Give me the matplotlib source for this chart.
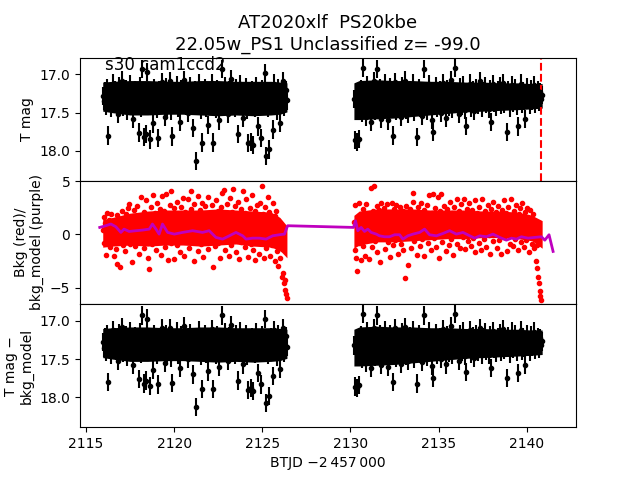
import numpy as np
import matplotlib
matplotlib.use("Agg")
import matplotlib.pyplot as plt

# cadence of the two orbits (BTJD - 2457000)
seg1_start, seg1_end = 2115.95, 2126.40
seg2_start, seg2_end = 2130.20, 2140.88

# T mag, orbit 1 and orbit 2
mag1 = [
    17.28, 17.35, 17.22, 17.41, 17.18, 17.80, 17.31, 17.26, 17.44, 17.12,
    17.33, 17.21, 17.39, 17.29, 17.52, 17.16, 17.36, 17.25, 17.08, 17.42,
    17.30, 17.19, 17.47, 17.27, 17.35, 17.13, 17.40, 17.24, 17.58, 17.32,
    17.20, 17.37, 17.29, 17.76, 17.15, 17.43, 16.93, 17.26, 17.82, 17.34,
    17.78, 16.97, 17.31, 17.85, 17.22, 17.40, 17.64, 17.18, 17.36, 17.27,
    17.45, 17.83, 17.21, 17.33, 17.10, 17.39, 17.28, 17.55, 17.17, 17.42,
    17.25, 17.34, 17.09, 17.48, 17.81, 17.23, 17.37, 17.30, 17.14, 17.44,
    17.26, 17.62, 17.19, 17.35, 17.31, 17.07, 17.41, 17.24, 17.50, 17.29,
    17.16, 17.38, 17.27, 17.70, 17.33, 17.21, 18.13, 17.40, 17.12, 17.32,
    17.46, 17.89, 17.25, 17.36, 17.18, 17.43, 17.29, 17.66, 17.22, 17.39,
    17.11, 17.89, 17.34, 17.27, 17.45, 17.19, 17.37, 17.60, 17.24, 16.93,
    17.31, 17.42, 17.15, 17.35, 17.28, 17.52, 17.20, 17.40, 17.06, 17.33,
    17.26, 17.44, 17.18, 17.37, 17.78, 17.29, 17.13, 17.41, 17.23, 17.57,
    17.34, 17.17, 17.46, 17.90, 17.27, 17.38, 17.88, 17.21, 17.92, 17.32,
    17.43, 17.15, 17.68, 17.36, 17.25, 17.83, 17.19, 17.41, 17.30, 16.98,
    18.07, 17.26, 17.44, 17.98, 17.22, 17.35, 17.72, 17.12, 17.40, 17.28,
    17.47, 17.18, 17.36, 17.63, 17.24, 17.09, 17.42, 17.31, 17.20, 17.34,
]
mag2 = [
    17.32, 17.86, 17.24, 17.88, 17.41, 17.84, 17.19, 17.50, 16.91, 17.35,
    17.27, 17.55, 17.14, 17.44, 17.30, 17.62, 17.21, 17.38, 17.09, 17.47,
    17.26, 16.93, 17.40, 17.18, 17.58, 17.33, 17.22, 17.45, 17.12, 17.36,
    17.29, 17.60, 17.17, 17.42, 17.25, 17.80, 17.34, 17.10, 17.48, 17.23,
    17.39, 17.28, 17.56, 17.15, 17.37, 17.31, 17.08, 17.46, 17.26, 17.52,
    17.20, 17.41, 17.33, 17.12, 17.49, 17.27, 17.38, 17.82, 17.18, 17.43,
    17.30, 17.54, 17.22, 16.93, 17.36, 17.26, 17.47, 17.13, 17.40, 17.29,
    17.59, 17.75, 17.24, 17.37, 17.16, 17.44, 17.31, 17.21, 17.50, 17.27,
    17.11, 17.39, 17.34, 17.57, 17.19, 17.42, 17.28, 17.07, 17.45, 17.32,
    17.23, 16.91, 17.38, 17.26, 17.52, 17.17, 17.35, 17.41, 17.14, 17.30,
    17.46, 17.67, 17.24, 17.37, 17.12, 17.43, 17.29, 17.20, 17.48, 17.33,
    17.18, 17.40, 17.27, 17.09, 17.36, 17.44, 17.22, 17.31, 17.15, 17.39,
    17.26, 17.45, 17.19, 17.62, 17.34, 17.13, 17.37, 17.28, 17.42, 17.21,
    17.33, 17.16, 17.40, 17.25, 17.11, 17.38, 17.29, 17.75, 17.20, 17.35,
    17.43, 17.24, 17.14, 17.37, 17.30, 17.18, 17.41, 17.68, 17.26, 17.33,
    17.12, 17.39, 17.22, 17.35, 17.58, 17.17, 17.31, 17.27, 17.40, 17.19,
    17.34, 17.25, 17.14, 17.38, 17.29, 17.21, 17.36, 17.23, 17.32, 17.27,
]
mag_err = 0.12

# dense part of the light curve (too many points to read one by one)
core_t1 = [2115.95, 2116.5, 2117.5, 2118.5, 2119.5, 2120.5, 2121.5,
           2122.5, 2123.5, 2124.5, 2125.5, 2126.0, 2126.4]
core_t2 = [2130.2, 2130.5, 2131.5, 2132.5, 2133.5, 2134.5, 2135.5,
           2136.5, 2137.5, 2138.5, 2139.5, 2140.3, 2140.88]
mag_core_top1 = [17.10, 17.09, 17.08, 17.08, 17.09, 17.09, 17.08,
                 17.08, 17.09, 17.09, 17.09, 17.10, 17.11]
mag_core_bot1 = [17.48, 17.50, 17.53, 17.53, 17.52, 17.52, 17.53,
                 17.54, 17.53, 17.54, 17.53, 17.52, 17.49]
mag_core_top2 = [17.11, 17.08, 17.07, 17.08, 17.08, 17.09, 17.09,
                 17.10, 17.10, 17.11, 17.11, 17.12, 17.12]
mag_core_bot2 = [17.59, 17.59, 17.58, 17.57, 17.55, 17.53, 17.51,
                 17.49, 17.48, 17.47, 17.46, 17.45, 17.44]
bkg_core_lo1 = [-1.2, -1.1, -1.0, -1.1, -1.0, -1.0, -1.1,
                -1.0, -0.9, -1.1, -1.2, -1.5, -2.2]
bkg_core_hi1 = [1.4, 1.6, 2.0, 2.2, 2.3, 2.3, 2.3,
                2.4, 2.3, 2.2, 2.1, 1.6, 0.8]
bkg_core_lo2 = [-1.3, -1.0, -0.7, -0.7, -0.6, -0.5, -0.4,
                -0.4, -0.3, -0.3, -0.4, -0.6, -1.3]
bkg_core_hi2 = [1.8, 2.2, 2.4, 2.4, 2.4, 2.3, 2.3,
                2.3, 2.2, 2.2, 2.1, 1.8, 1.3]

# background flux (red)
bkg1 = [
    0.4, 1.6, -0.8, 1.1, -1.9, 0.9, 2.0, -0.3, 1.4, -1.2,
    0.7, 1.9, -0.5, 0.2, -2.0, 1.3, 0.5, -1.4, 1.8, -2.8,
    0.9, -0.2, 1.5, -3.1, 0.3, 2.2, -1.0, 1.2, 0.6, -1.6,
    1.9, -0.4, 0.8, 2.5, 2.9, -0.9, 1.4, 0.1, -2.6, 1.7,
    0.5, 2.3, -1.1, 1.0, -0.3, 2.7, 0.7, -1.8, 1.6, 0.2,
    3.5, -0.7, 1.3, 2.1, -1.3, 0.9, 3.2, -0.1, 1.8, -2.2,
    -3.3, 1.1, 2.6, 0.4, -0.9, 3.7, 1.5, -0.2, 2.0, -1.5,
    0.8, 3.0, -0.6, 1.7, 2.4, -1.9, 0.6, 3.6, 1.2, -0.4,
    2.2, -1.2, 3.8, 0.3, 1.6, -2.4, 0.9, 2.8, -0.8, 4.1,
    1.4, -0.3, -2.3, 2.5, 0.7, 1.9, -1.0, 3.1, 0.2, 1.3,
    -1.7, 2.6, 0.5, -0.6, 3.4, 1.0, -2.0, 2.1, 0.8, -0.2,
    1.7, 3.3, -1.3, 0.4, 2.4, 4.1, -0.7, 1.5, -2.5, 2.9,
    0.9, -0.1, 1.8, 3.6, -1.6, 0.6, 2.3, -0.9, 1.2, 3.0,
    -2.1, 0.3, 1.9, 2.7, -0.5, 1.1, -1.4, 3.5, 0.7, 2.0,
    -0.3, 1.6, 2.8, -3.1, 0.5, 1.3, -1.1, 3.2, 0.9, 2.2,
    -0.8, 1.4, -2.2, 2.6, 0.2, 3.9, 1.0, 4.2, -1.5, 1.7,
    0.4, 2.9, -0.6, 1.2, -2.0, 3.4, 0.8, -1.0, 2.1, 4.3,
    1.5, -0.2, 2.7, -1.7, 0.6, 3.1, 1.9, -2.3, 0.1, 2.4,
    -0.7, 1.3, 4.1, 0.5, -1.2, 2.0, 3.3, -0.4, 1.6, -2.1,
    0.9, 2.5, -0.9, 1.8, 3.7, -1.5, 0.3, 2.2, -2.4, 1.1,
    2.8, -0.5, 1.4, -1.8, 3.0, 0.7, -0.1, 4.6, 1.9, -2.2,
    0.5, 2.6, -1.3, 1.0, 3.5, -0.6, 2.1, -2.0, 0.8, 1.5,
    -1.0, 3.0, 0.2, -2.5, 1.7, 2.2, -1.6, 0.4, -3.0, 1.2,
    -2.2, 0.6, -4.0, -1.4, -3.6, -4.6, -5.2, -4.3, -5.6, -6.0,
]
bkg2 = [
    1.2, -1.5, 2.8, -2.2, -3.4, 0.6, 3.0, -0.8, 1.7, -2.4,
    0.3, 2.4, -1.1, 1.0, -2.0, 2.9, 0.5, -0.4, 1.9, -2.3,
    1.4, 0.1, 4.4, -1.2, 2.2, 4.6, 0.8, -0.6, 1.6, 2.7,
    -1.7, 0.9, 2.3, -2.6, 1.3, 3.0, -0.3, 1.8, 0.4, 2.5,
    -1.4, 1.1, 2.9, -0.7, 0.6, 2.0, -2.1, 1.5, 3.0, 0.2,
    -1.0, 2.4, 1.2, -0.5, 2.8, 0.7, -1.8, 1.9, 0.3, 2.6,
    -0.9, 1.4, 2.2, -1.5, 0.8, -4.1, 1.7, 2.7, -0.2, -2.9,
    1.1, 2.4, 0.5, -1.3, 1.9, 3.1, 3.9, -0.6, 1.3, 2.1,
    -1.9, 0.9, 2.6, 0.2, -1.1, 1.6, 3.0, -0.4, 1.0, 2.3,
    -2.0, 1.4, 0.6, 2.8, -0.8, 1.8, 3.7, 0.3, -1.5, 2.0,
    1.2, 3.8, -0.3, 0.8, 2.5, -1.2, 1.6, 3.5, 0.4, -2.2,
    2.2, 3.8, 1.0, -0.7, 1.9, 2.7, 0.1, -1.6, 1.3, 2.4,
    0.6, -1.0, 3.1, 1.7, -0.4, 2.0, 0.9, -1.9, 2.6, 1.2,
    0.3, 3.3, -0.9, 1.5, 2.2, -1.3, 0.7, 2.9, 1.1, -0.2,
    1.8, 3.3, -1.4, 0.5, 2.4, 1.0, -0.6, 3.0, 1.6, -1.1,
    0.8, 2.3, -0.3, 1.4, 3.2, -1.7, 0.6, 2.0, 1.2, -0.8,
    2.6, 0.4, -1.5, 1.9, 3.3, 0.9, -0.4, 2.2, 1.3, -1.2,
    0.7, 2.8, -0.1, 1.6, -1.8, 2.4, 1.0, 3.1, -0.6, 1.5,
    0.2, 2.1, -1.3, 1.1, 2.7, -0.5, 1.8, 0.5, -1.8, 2.3,
    1.3, 3.2, -0.2, 0.9, 2.0, -1.6, 1.5, 2.6, 0.4, -0.9,
    1.7, 3.3, 0.8, -1.1, 2.2, 1.2, -0.4, 2.8, 0.6, -1.5,
    1.9, 1.0, 2.5, -0.7, 1.4, 3.0, 0.3, -1.2, 2.1, 1.1,
    -0.5, 2.5, 1.6, -1.7, 2.3, 0.7, 1.3, -0.9, 1.9, 0.4,
    -1.3, 1.3, -2.5, -1.0, -3.2, -4.0, -4.6, -5.3, -5.8, -6.2,
]

# smoothed background model (purple)
model_t = [
    2115.78, 2116.12, 2116.41, 2116.69, 2116.98, 2117.16, 2117.45, 2117.83,
    2118.21, 2118.59, 2118.77, 2118.97, 2119.15, 2119.34, 2119.63, 2120.01,
    2120.48, 2121.05, 2121.61, 2121.99, 2122.37, 2122.75, 2123.13, 2123.51,
    2123.89, 2124.08, 2124.45, 2124.84, 2125.22, 2125.59, 2125.97, 2126.26,
    2126.44,
    2130.18, 2130.29, 2130.42, 2130.61, 2130.80, 2130.99, 2131.18, 2131.47,
    2131.65, 2131.94, 2132.22, 2132.51, 2132.79, 2132.98, 2133.26, 2133.55,
    2133.93, 2134.21, 2134.49, 2134.88, 2135.25, 2135.63, 2136.01, 2136.39,
    2136.77, 2137.05, 2137.34, 2137.72, 2138.09, 2138.47, 2138.85, 2139.14,
    2139.42, 2139.70, 2140.08, 2140.46, 2140.84, 2141.03, 2141.27, 2141.50,
]
model_v = [
    0.66, 0.82, 0.98, 0.73, 0.19, 0.50, 0.28, 0.35,
    0.41, 0.50, 0.98, 0.50, 0.03, 0.98, 0.19, 0.03,
    0.19, 0.35, 0.19, 0.35, -0.28, -0.44, -0.13, 0.19,
    -0.13, -0.44, -0.35, -0.35, -0.44, -0.13, -0.03, 0.03,
    0.82,
    0.66, 1.29, 0.35, 0.66, 0.28, 0.50, 0.19, 0.03,
    -0.13, -0.22, -0.22, -0.03, -0.03, -0.44, -0.13, 0.03,
    0.19, 0.50, -0.03, -0.13, 0.09, 0.35, 0.03, 0.19,
    -0.13, -0.35, -0.13, -0.22, 0.03, -0.28, -0.54, -0.35,
    -0.44, -0.22, -0.35, -0.28, -0.22, -0.54, -0.03, -1.60,
]

discovery = 2140.81

t_mag1 = np.linspace(seg1_start, seg1_end, len(mag1))
t_mag2 = np.linspace(seg2_start, seg2_end, len(mag2))
t_bkg1 = np.linspace(seg1_start, seg1_end, len(bkg1))
t_bkg2 = np.linspace(seg2_start, seg2_end - 0.05, len(bkg2))

t_mag = np.concatenate([t_mag1, t_mag2])
mag = np.array(mag1 + mag2)
t_bkg = np.concatenate([t_bkg1, t_bkg2])
bkg = np.array(bkg1 + bkg2)


def mag_panel(ax):
    ax.fill_between(core_t1, mag_core_top1, mag_core_bot1, color="k", lw=0)
    ax.fill_between(core_t2, mag_core_top2, mag_core_bot2, color="k", lw=0)
    ax.errorbar(t_mag, mag, yerr=mag_err, fmt="k.")
    ax.set_ylim(18.39, 16.78)
    ax.set_yticks([17.0, 17.5, 18.0])


fig, axs = plt.subplots(3, 1, sharex=True, figsize=(6.4, 4.8))
fig.subplots_adjust(hspace=0)

ax = axs[0]
mag_panel(ax)
ax.axvline(discovery, color="r", linestyle="--")
ax.set_ylabel("T mag")
ax.set_title("AT2020xlf  PS20kbe\n22.05w_PS1 Unclassified z= -99.0", fontsize=13)
ax.text(0.05, 0.9, "s30 cam1ccd2", transform=ax.transAxes, fontsize=12)

ax = axs[1]
ax.fill_between(core_t1, bkg_core_lo1, bkg_core_hi1, color="r", lw=0)
ax.fill_between(core_t2, bkg_core_lo2, bkg_core_hi2, color="r", lw=0)
ax.plot(t_bkg, bkg, "r.")
ax.plot(model_t, model_v, "m", lw=2)
ax.set_ylim(-6.55, 5.05)
ax.set_yticks([-5, 0, 5])
ax.set_ylabel("Bkg (red)/\nbkg_model (purple)")

# bkg_model correction is far below the mag error, so the curve looks the same
ax = axs[2]
mag_panel(ax)
ax.set_ylabel("T mag \u2212\nbkg_model")
ax.set_xlabel("BTJD \u22122\u2009457\u2009000")

ax.set_xlim(2114.66, 2142.8)
ax.set_xticks([2115, 2120, 2125, 2130, 2135, 2140])

fig.savefig("out.png", dpi=100)
